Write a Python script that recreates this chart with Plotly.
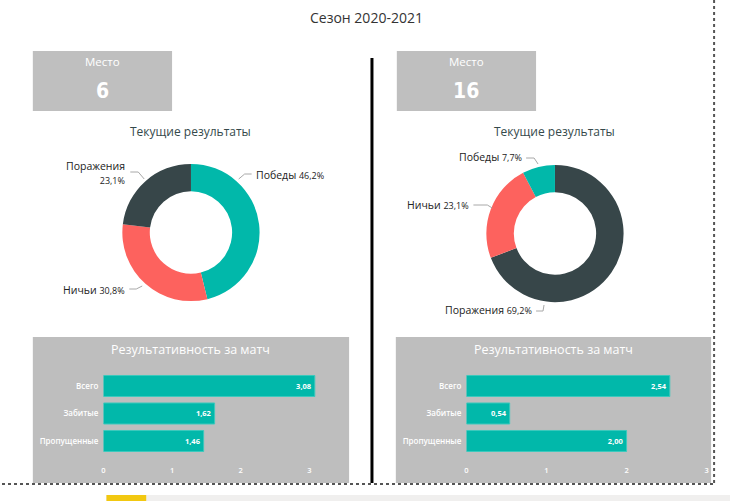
import plotly.graph_objects as go

# ---------------- data ----------------
season_title = "Сезон 2020-2021"
place_label = "Место"
places = [6, 16]
pie_title = "Текущие результаты"
outcomes = ["Победы", "Ничьи", "Поражения"]
outcome_colors = ["#01B8AA", "#FD625E", "#374649"]
left_outcomes = [6, 4, 3]
right_outcomes = [1, 3, 9]
bar_title = "Результативность за матч"
metrics = ["Всего", "Забитые", "Пропущенные"]
left_goals = [3.08, 1.62, 1.46]
right_goals = [2.54, 0.54, 2.00]
x_ticks = [0, 1, 2, 3]

# ---------------- layout helpers ----------------
W, H = 732, 501


def px(x):
    return x / W


def py(y):
    return 1 - y / H


GRAY = "#BEBEBE"
TEAL = "#01B8AA"
FONT = "Open Sans"

fig = go.Figure()

# Donuts
pie_domains = [
    dict(x=[px(121), px(259)], y=[py(302), py(163)]),
    dict(x=[px(487), px(625)], y=[py(303), py(164)]),
]
for vals, dom in zip([left_outcomes, right_outcomes], pie_domains):
    fig.add_trace(go.Pie(
        labels=outcomes, values=vals,
        marker=dict(colors=outcome_colors, line=dict(width=0)),
        hole=0.6, sort=True, direction="clockwise", rotation=0,
        textinfo="none", domain=dom, showlegend=False,
    ))

# Bars
for vals, xa, ya in [(left_goals, "x", "y"), (right_goals, "x2", "y2")]:
    fig.add_trace(go.Bar(
        orientation="h", y=metrics, x=vals, xaxis=xa, yaxis=ya,
        marker=dict(color=TEAL, line=dict(color="#3cc9bd", width=1)),
        texttemplate="%{x:.2f}", textposition="inside", insidetextanchor="end",
        textfont=dict(color="white", size=7.5, family=FONT, weight=700),
        showlegend=False, cliponaxis=False,
    ))

ydom = [py(454.75), py(372.25)]
axis_common_x = dict(tickvals=x_ticks, showgrid=False, zeroline=False, showline=False,
                     tickfont=dict(color="white", size=7.5, family=FONT, weight=600),
                     ticklabelstandoff=10, fixedrange=True)
axis_common_y = dict(categoryorder="array", categoryarray=metrics, range=[2.5, -0.5],
                     showgrid=False, zeroline=False, showline=False,
                     tickfont=dict(color="white", size=8, family=FONT, weight=600),
                     ticklabelstandoff=4, fixedrange=True)

fig.update_layout(
    width=W, height=H,
    margin=dict(l=0, r=0, t=0, b=0),
    paper_bgcolor="white", plot_bgcolor="rgba(0,0,0,0)",
    separators=", ",
    bargap=0.236,
    font=dict(family=FONT),
    xaxis=dict(domain=[px(102), px(336.6)], range=[0, 3.4], anchor="y", **axis_common_x),
    yaxis=dict(domain=ydom, anchor="x", **axis_common_y),
    xaxis2=dict(domain=[px(467), px(708.5)], range=[0, 3], anchor="y2", **axis_common_x),
    yaxis2=dict(domain=ydom, anchor="x2", **axis_common_y),
)

shapes = []
annotations = []


def rect(x0, y0, x1, y1, color):
    shapes.append(dict(type="rect", xref="paper", yref="paper", x0=px(x0), x1=px(x1),
                       y0=py(y1), y1=py(y0), fillcolor=color, line=dict(width=0), layer="below"))


def text(x, y, s, size, color="#333", xanchor="center", family=FONT, weight=400, align="center"):
    annotations.append(dict(xref="paper", yref="paper", x=px(x), y=py(y), text=s, showarrow=False,
                            xanchor=xanchor, yanchor="middle", align=align,
                            font=dict(size=size, color=color, family=family, weight=weight)))


# Title
text(366, 18, season_title, 14, color="#333")

# Cards
for (x0, x1), place in zip([(31, 171), (397, 537)], places):
    rect(x0, 51, x1, 111, "#BFBFBF")
    text((x0 + x1) / 2, 61, place_label, 11.5, color="white")
    text((x0 + x1) / 2, 91, str(place), 21, color="white", family="DejaVu Sans Condensed", weight=700)

# Donut titles
text(190, 131, pie_title, 12, color="#35494B")
text(556, 131, pie_title, 12, color="#35494B")


def pct(v, total):
    return f"{v / total * 100:.1f}".replace(".", ",") + "%"


# Donut labels: (xanchor, x, y, two-line)
label_specs = [
    {"Победы": ("left", 253, 175, False), "Ничьи": ("right", 126, 290, False),
     "Поражения": ("right", 126, 173, True)},
    {"Победы": ("right", 525, 157, False), "Ничьи": ("right", 472, 205, False),
     "Поражения": ("right", 535, 310, False)},
]
leader_lines = [
    {"Победы": [(238, 179), (244, 174), (251, 174)],
     "Ничьи": [(128, 289), (135, 289), (141, 286)],
     "Поражения": [(129, 172), (137, 172), (143, 179)]},
    {"Победы": [(527, 158), (535, 158), (539, 164)],
     "Ничьи": [(474, 205), (488, 205), (493, 208)],
     "Поражения": [(537, 311), (544, 311), (545, 305)]},
]
for vals, specs, lines in zip([left_outcomes, right_outcomes], label_specs, leader_lines):
    total = sum(vals)
    for name, v in zip(outcomes, vals):
        xa, x, y, two = specs[name]
        sep = "<br>" if two else " "
        s = f"{name}{sep}<span style='font-size:9px'>{pct(v, total)}</span>"
        text(x, y, s, 10.5, color="#222", xanchor=xa, align="right" if xa == "right" else "left")
        pts = lines[name]
        path = "M " + " L ".join(f"{px(a)},{py(b)}" for a, b in pts)
        shapes.append(dict(type="path", xref="paper", yref="paper", path=path,
                           line=dict(color="#A8A8A8", width=1)))

# Bar panels
for x0, x1, cx in [(31, 349, 190), (396, 713, 555)]:
    rect(x0, 337, x1, 483, GRAY)
    text(cx, 349, bar_title, 12.5, color="white")

# Separator line
shapes.append(dict(type="line", xref="paper", yref="paper", x0=px(372), x1=px(372),
                   y0=py(58), y1=py(483), line=dict(color="black", width=3)))
# Dotted frame
shapes.append(dict(type="line", xref="paper", yref="paper", x0=px(716), x1=px(716),
                   y0=py(0), y1=py(484), line=dict(color="#555", width=2, dash="dot")))
shapes.append(dict(type="line", xref="paper", yref="paper", x0=px(0), x1=px(716),
                   y0=py(484), y1=py(484), line=dict(color="#555", width=2, dash="dot")))
# Bottom strip
rect(105, 495, 732, 501, "#F0EFEE")
rect(105, 495, 145, 501, "#F2C811")

fig.update_layout(shapes=shapes, annotations=annotations)
fig.write_html(
    "out.html",
    config={"displayModeBar": False},
    post_script="document.body.style.margin='0';document.body.style.overflow='hidden';",
)
